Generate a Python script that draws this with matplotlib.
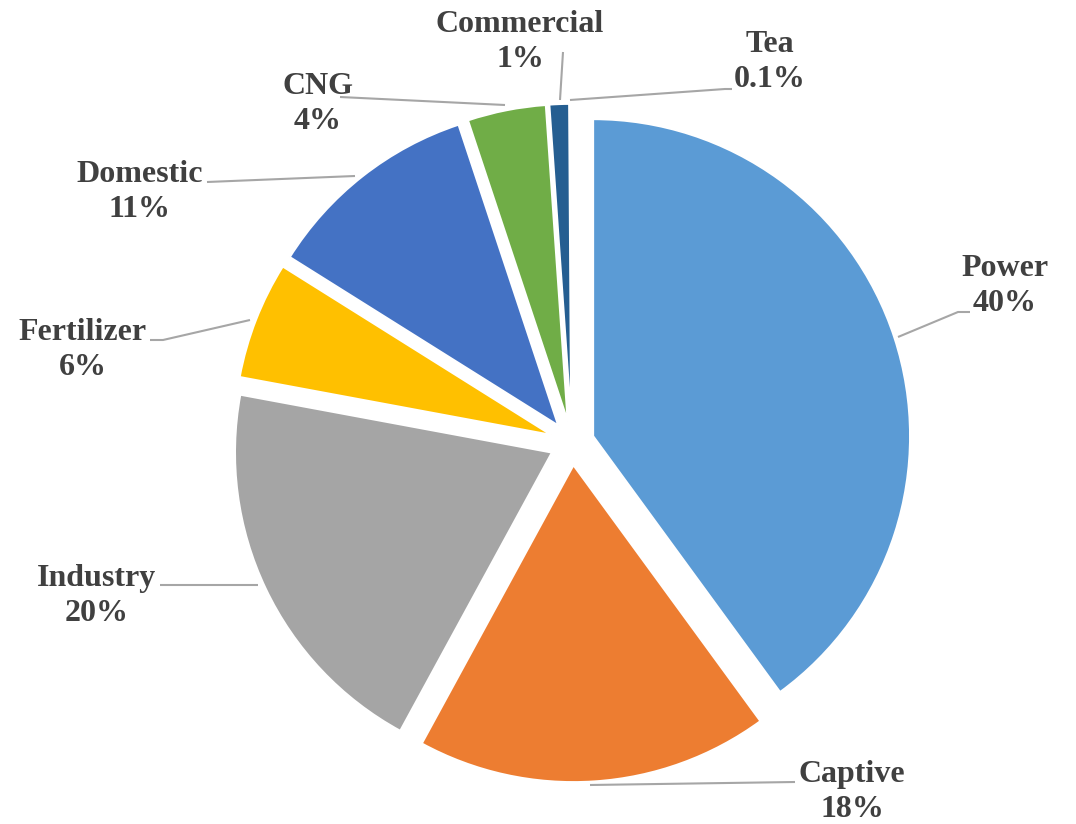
import numpy as np
from matplotlib import pyplot as plt

labels = ['Power', 'Captive', 'Industry', 'Fertilizer', 'Domestic', 'CNG', 'Commercial', 'Tea']
values = [40, 18, 20, 6, 11, 4, 1, 0.1]
pct_text = ['40%', '18%', '20%', '6%', '11%', '4%', '1%', '0.1%']
colors = ['#5B9BD5', '#ED7D31', '#A5A5A5', '#FFC000', '#4472C4', '#70AD47', '#255E91', '#9E480E']

# pie centre and radius in image pixels
cx, cy, R = 572, 443, 317

def px(x, y):
    # pixel position -> data coords (radius 1 pie at origin)
    return (x - cx) / R, (cy - y) / R

fig = plt.figure(figsize=(10.76, 8.24), dpi=100)
ax = fig.add_axes([0, 0, 1, 1])
ax.pie(values, colors=colors, startangle=90, counterclock=False,
       explode=[0.07] * len(values), radius=1, center=(0, 0),
       wedgeprops=dict(edgecolor='white', linewidth=1.5))
ax.set_xlim(-cx / R, (1076 - cx) / R)
ax.set_ylim((cy - 824) / R, cy / R)
ax.set_aspect('equal')
ax.axis('off')

# label centres and leader lines (pixels)
label_pos = [(1005, 286), (852, 792), (97, 596), (83, 350), (140, 192), (318, 104), (520, 42), (770, 62)]
leaders = [
    [(898, 337), (958, 312), (970, 312)],
    [(590, 785), (795, 782)],
    [(258, 585), (160, 585)],
    [(250, 320), (163, 340), (150, 340)],
    [(355, 176), (207, 182)],
    [(505, 105), (340, 97)],
    [(560, 100), (563, 52)],
    [(570, 100), (725, 89), (732, 89)],
]

for name, pct, pos, line in zip(labels, pct_text, label_pos, leaders):
    xs, ys = zip(*[px(x, y) for x, y in line])
    ax.plot(xs, ys, color='#A6A6A6', lw=1.5, solid_capstyle='butt')
    tx, ty = px(*pos)
    ax.text(tx, ty, name + '\n' + pct, ha='center', va='center', fontsize=23,
            fontweight='bold', family='Liberation Serif', color='#404040',
            linespacing=1.25)

plt.savefig('out.png', dpi=100)
